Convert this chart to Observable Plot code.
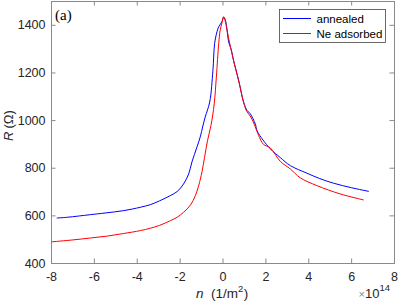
<!DOCTYPE html>
<html><head><meta charset="utf-8">
<script src="https://cdn.jsdelivr.net/npm/d3@7"></script>
<script src="https://cdn.jsdelivr.net/npm/@observablehq/plot@0.6"></script>
<style>body{margin:0;background:#fff}</style>
</head><body><div id="chart"></div>
<script>
// n in units of 1e14 1/m^2, R in ohm
const annealedN = [-7.74,-7.27,-6.19,-5.5,-4.63,-3.86,-3.39,-2.96,-2.46,-2.14,-1.84,-1.6,-1.45,-1.21,-1.05,-0.95,-0.83,-0.62,-0.47,-0.39,-0.28,-0.2,-0.05,0.03,0.11,0.19,0.26,0.39,0.49,0.73,0.96,1.12,1.27,1.51,1.6,2.2,2.67,3.14,3.92,4.5,5.16,6.0,6.79];
const annealedR = [591,594,605,612,622,636,647,663,685,702,734,776,826,890,935,973,1015,1078,1211,1324,1373,1394,1415,1435,1422,1380,1331,1296,1253,1169,1078,1043,1029,985,955,882,845,811,779,757,737,718,703];
const neN = [-7.98,-7.0,-6.19,-5.4,-4.63,-3.86,-3.39,-2.96,-2.45,-2.14,-1.84,-1.52,-1.29,-1.14,-0.98,-0.86,-0.72,-0.56,-0.41,-0.31,-0.2,-0.13,-0.05,0.03,0.1,0.2,0.3,0.5,0.75,0.95,1.1,1.3,1.5,1.66,1.89,2.2,2.67,3.14,3.6,4.38,5.47,6.55];
const neR = [491,499,507,515,526,538,548,560,580,594,615,645,685,725,785,846,917,980,1070,1183,1324,1380,1410,1435,1420,1375,1330,1250,1160,1080,1040,1015,975,938,900,886,829,797,760,727,692,667];
const xTicks = [-8,-6,-4,-2,0,2,4,6,8];
const yTicks = [400,600,800,1000,1200,1400];
const seriesNames = ["annealed","Ne adsorbed"];
const seriesColors = ["#0000ff","#ff0000"];

const rows = [
  ...annealedN.map((n,i)=>({n, R: annealedR[i], s: seriesNames[0]})),
  ...neN.map((n,i)=>({n, R: neR[i], s: seriesNames[1]}))
];

const W = 399, H = 308, mL = 51, mR = 5, mT = 1, mB = 45;
const innerW = W - mL - mR, innerH = H - mT - mB, tk = 4.5;
const axisColor = "#8a8a8a", textColor = "#262626";
const font = "'Liberation Sans', Arial, sans-serif";

const plot = Plot.plot({
  width: W, height: H,
  marginLeft: mL, marginRight: mR, marginTop: mT, marginBottom: mB,
  style: {fontFamily: font, fontSize: "12px", color: textColor, background: "#fff"},
  x: {domain: [-8, 8]},
  y: {domain: [400, 1500]},
  color: {domain: seriesNames, range: seriesColors},
  marks: [
    Plot.tickX(xTicks, {x: d => d, insetTop: innerH - tk, stroke: axisColor}),
    Plot.tickX(xTicks, {x: d => d, insetBottom: innerH - tk, stroke: axisColor}),
    Plot.tickY(yTicks, {y: d => d, insetRight: innerW - tk, stroke: axisColor}),
    Plot.tickY(yTicks, {y: d => d, insetLeft: innerW - tk, stroke: axisColor}),
    Plot.frame({stroke: axisColor}),
    Plot.axisX({ticks: xTicks, tickSize: 0, tickPadding: 9, label: null, fill: textColor, fontSize: 12.5, tickFormat: d => String(d)}),
    Plot.axisY({ticks: yTicks, tickSize: 0, tickPadding: 6, label: null, fill: textColor, fontSize: 12.5, tickFormat: d => String(d)}),
    Plot.line(rows, {x: "n", y: "R", z: "s", stroke: "s", strokeWidth: 1, curve: "catmull-rom"})
  ]
});
document.getElementById("chart").appendChild(plot);

const svg = d3.select(plot);
// y label (rotated)
const yl = svg.append("text").attr("transform", "translate(12.5,141) rotate(-90)")
  .attr("text-anchor", "start").attr("font-family", font).attr("font-size", 13).attr("fill", textColor);
yl.append("tspan").attr("font-style", "italic").text("R");
yl.append("tspan").attr("dx", 3).text("(Ω)");
// x label
const xl = svg.append("text").attr("x", 196).attr("y", 298).attr("text-anchor", "start")
  .attr("font-family", font).attr("font-size", 13.5).attr("fill", textColor);
xl.append("tspan").attr("font-style", "italic").text("n");
xl.append("tspan").text("\u00a0\u00a0(1/m");
xl.append("tspan").attr("font-size", 9.5).attr("dy", -6).text("2");
xl.append("tspan").attr("dy", 6).attr("dx", 0.5).text(")");
// exponent
const ex = svg.append("text").attr("x", 358.5).attr("y", 298).attr("text-anchor", "start")
  .attr("font-family", font).attr("font-size", 13).attr("fill", textColor);
ex.append("tspan").attr("fill", "#8a8a8a").attr("font-size", 11).text("×");
ex.append("tspan").text("10");
ex.append("tspan").attr("font-size", 9.5).attr("dy", -7).text("14");
// panel label
svg.append("text").attr("x", 55).attr("y", 20).attr("text-anchor", "start")
  .attr("font-family", "'Liberation Serif', 'Times New Roman', serif").attr("font-size", 15)
  .attr("fill", "#000").text("(a)");
// legend
const lg = svg.append("g");
lg.append("rect").attr("x", 279.5).attr("y", 9.5).attr("width", 106).attr("height", 33)
  .attr("fill", "#fff").attr("stroke", "#444").attr("stroke-width", 0.8);
seriesNames.forEach((name, i) => {
  const y = 18.5 + i * 15;
  lg.append("line").attr("x1", 283).attr("x2", 311).attr("y1", y).attr("y2", y)
    .attr("stroke", seriesColors[i]).attr("stroke-width", 1);
  lg.append("text").attr("x", 316.5).attr("y", y).attr("dy", "0.35em").attr("text-anchor", "start")
    .attr("font-family", font).attr("font-size", 11.5).attr("fill", "#000").text(name);
});
</script>
</body></html>
